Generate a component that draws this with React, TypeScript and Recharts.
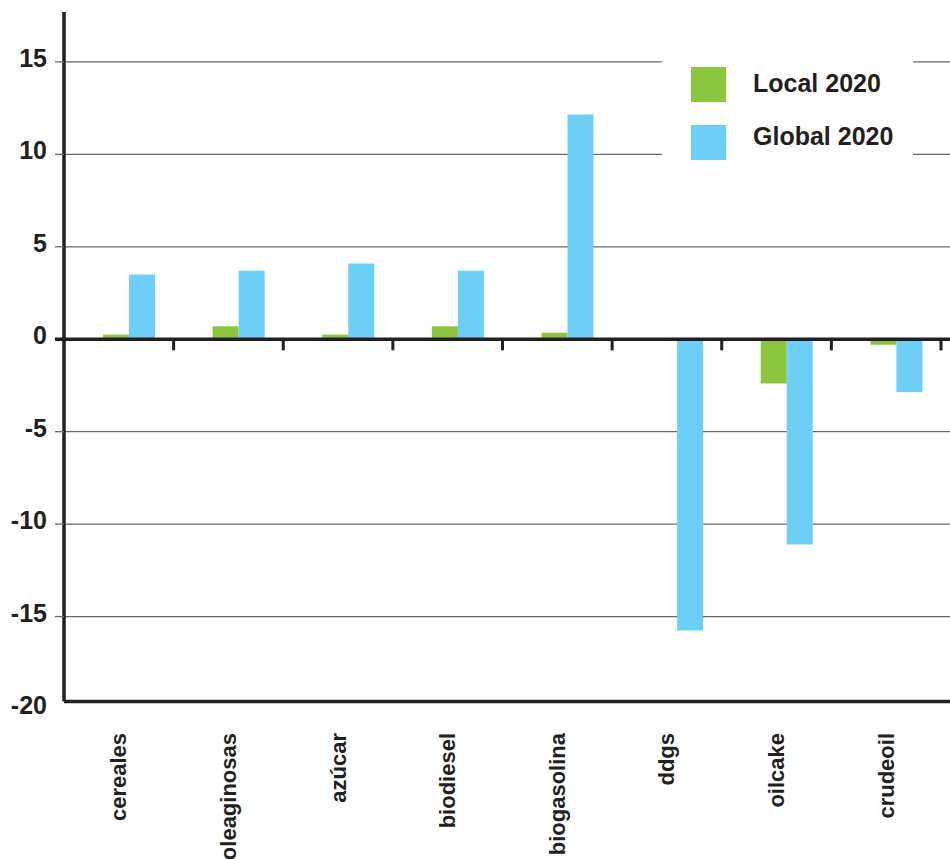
import { Bar, BarChart, CartesianGrid, Legend, Rectangle, ReferenceLine, XAxis, YAxis } from 'recharts';

// Local vs Global 2020 — variación por producto
const CATEGORIES = ['cereales', 'oleaginosas', 'azúcar', 'biodiesel', 'biogasolina', 'ddgs', 'oilcake', 'crudeoil'];
const LOCAL_2020 = [0.25, 0.7, 0.25, 0.7, 0.35, 0, -2.4, -0.3];
const GLOBAL_2020 = [3.5, 3.7, 4.1, 3.7, 12.15, -15.75, -11.1, -2.85];
const SERIES_NAMES = ['Local 2020', 'Global 2020'];
const Y_TICKS = [15, 10, 5, 0, -5, -10, -15, -20];
const GRID_VALUES = [15, 10, 5, -5, -10, -15];

const Y_MIN = -20;
const Y_MAX = 17.7;
const AXIS_FLOOR = -19.6;

const GREEN = '#8cc63f';
const BLUE = '#6dcff6';
const INK = '#231f20';
const GRID = '#6a6a6a';
const FONT = "'Liberation Sans', Arial, Helvetica, sans-serif";
// the original places the pair a little right of the band centre
const BAR_SHIFT = 10;

const data = CATEGORIES.map((name, i) => ({ name, local: LOCAL_2020[i], global: GLOBAL_2020[i] }));

function ShiftedBar(props: any) {
  return <Rectangle {...props} x={props.x + BAR_SHIFT} />;
}

function YTick({ x, y, payload }: any) {
  const v = payload.value;
  const zero = v === 0;
  return (
    <g>
      {v !== Y_MIN && (
        <line x1={x + 8} x2={x + 17} y1={y} y2={y} stroke={zero ? INK : GRID} strokeWidth={zero ? 3.5 : 1.3} />
      )}
      <text
        x={x}
        y={y}
        dy={-4}
        textAnchor="end"
        dominantBaseline="central"
        fontFamily={FONT}
        fontWeight="bold"
        fontSize={25}
        fill={INK}
      >
        {v}
      </text>
    </g>
  );
}

function XTick({ x, y, payload }: any) {
  return (
    <text
      x={x}
      y={y}
      transform={`rotate(-90, ${x}, ${y})`}
      textAnchor="end"
      dominantBaseline="central"
      fontFamily={FONT}
      fontWeight="bold"
      fontSize={22}
      fill={INK}
    >
      {payload.value}
    </text>
  );
}

function LegendBox({ payload }: any) {
  const items = [...(payload ?? [])].sort(
    (a: any, b: any) => SERIES_NAMES.indexOf(a.value) - SERIES_NAMES.indexOf(b.value),
  );
  return (
    <div style={{ position: 'relative', width: 251, height: 130, background: '#fff' }}>
      {items.map((item: any, i: number) => (
        <div key={item.value}>
          <div
            style={{
              position: 'absolute',
              left: 29,
              top: 22 + i * 58,
              width: 35,
              height: 35,
              background: item.color,
            }}
          />
          <div
            style={{
              position: 'absolute',
              left: 91,
              top: 26 + i * 53,
              fontFamily: FONT,
              fontWeight: 'bold',
              fontSize: 25,
              lineHeight: '25px',
              color: INK,
              whiteSpace: 'nowrap',
            }}
          >
            {item.value}
          </div>
        </div>
      ))}
    </div>
  );
}

export default function App() {
  return (
    <div
      style={{
        position: 'absolute',
        left: 0,
        top: 0,
        width: 950,
        height: 859,
        overflow: 'hidden',
        background: '#fff',
      }}
    >
      <BarChart
        width={1010}
        height={859}
        data={data}
        barGap={0}
        margin={{ top: 12, right: 10, bottom: 0, left: 0 }}
      >
        <CartesianGrid vertical={false} horizontalValues={GRID_VALUES} stroke={GRID} strokeWidth={1.3} />
        <XAxis
          dataKey="name"
          padding={{ left: 0, right: 59 }}
          axisLine={false}
          tickLine={false}
          tickSize={0}
          tickMargin={24}
          height={150}
          interval={0}
          tick={XTick}
        />
        <YAxis
          domain={[Y_MIN, Y_MAX]}
          ticks={Y_TICKS}
          allowDataOverflow
          interval={0}
          axisLine={false}
          tickLine={false}
          tickSize={9}
          tickMargin={8}
          tick={YTick}
          width={64}
        />
        <Legend
          layout="horizontal"
          verticalAlign="middle"
          align="center"
          content={LegendBox}
          wrapperStyle={{ position: 'absolute', left: 662, top: 45, width: 251, height: 130 }}
        />
        <Bar
          dataKey="local"
          name={SERIES_NAMES[0]}
          fill={GREEN}
          barSize={26}
          shape={ShiftedBar}
          isAnimationActive={false}
        />
        <Bar
          dataKey="global"
          name={SERIES_NAMES[1]}
          fill={BLUE}
          barSize={26}
          shape={ShiftedBar}
          isAnimationActive={false}
        />
        <ReferenceLine y={0} stroke={INK} strokeWidth={3.5} />
        <ReferenceLine y={AXIS_FLOOR} stroke={INK} strokeWidth={3.5} />
        <ReferenceLine
          position="start"
          segment={[
            { x: CATEGORIES[0], y: AXIS_FLOOR },
            { x: CATEGORIES[0], y: Y_MAX },
          ]}
          stroke={INK}
          strokeWidth={3.5}
        />
        {CATEGORIES.map((c) => (
          <ReferenceLine
            key={c}
            position="end"
            segment={[
              { x: c, y: 0 },
              { x: c, y: -0.6 },
            ]}
            stroke={INK}
            strokeWidth={3}
          />
        ))}
      </BarChart>
    </div>
  );
}
